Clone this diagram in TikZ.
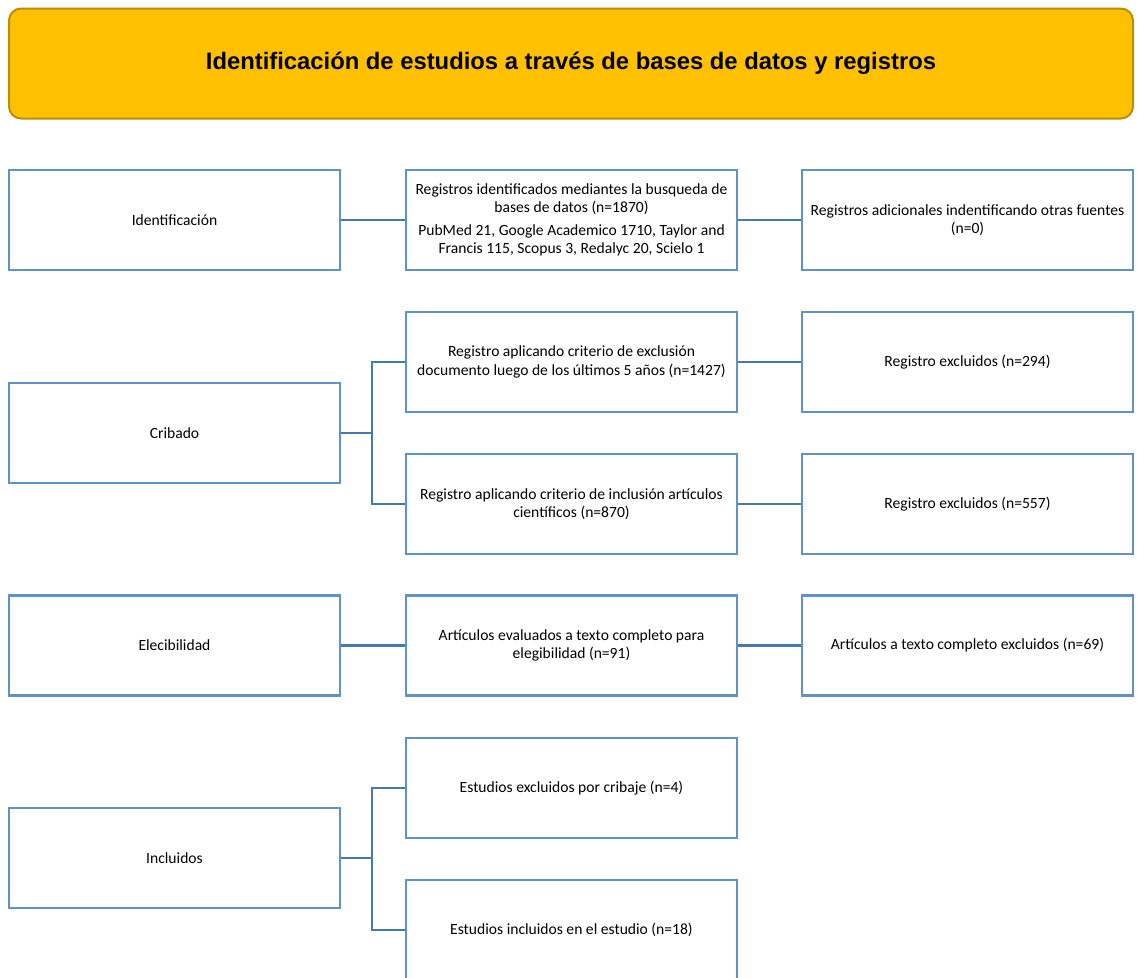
\documentclass[tikz,border=0pt]{standalone}
\usepackage{fontspec}
\setmainfont{Carlito}
\newfontfamily\titlefont{Liberation Sans}
\definecolor{boxblue}{RGB}{96,145,200}
\definecolor{linkblue}{RGB}{70,122,168}
\definecolor{titlefill}{RGB}{255,192,0}
\definecolor{titledraw}{RGB}{184,142,10}
\begin{document}
\begin{tikzpicture}[x=1pt,y=-1pt,
  stepbox/.style={draw=boxblue,line width=2.6pt,fill=white,minimum width=331pt,minimum height=100pt,inner sep=0pt,align=center,font=\fontsize{15.6}{18.5}\selectfont},
  link/.style={draw=linkblue,line width=2.8pt}]
\useasboundingbox (0,0) rectangle (1137,977);
\node[draw=titledraw,line width=2pt,fill=titlefill,rounded corners=12pt,minimum width=1124pt,minimum height=110pt,inner sep=0pt,font=\titlefont\bfseries\fontsize{23.8}{28}\selectfont] (title) at (571,63.5) {Identificación de estudios a través de bases de datos y registros};
% row 1
\node[stepbox] (id) at (174.5,220) {Identificación};
\node[stepbox,font=\fontsize{15.6}{17.5}\selectfont] (idm) at (571.5,220) {Registros identificados mediantes la busqueda de\\bases de datos (n=1870)\\[6pt]PubMed 21, Google Academico 1710, Taylor and\\Francis 115, Scopus 3, Redalyc 20, Scielo 1};
\node[stepbox] (idr) at (967.5,220) {Registros adicionales indentificando otras fuentes\\(n=0)};
% row 2
\node[stepbox] (crib) at (174.5,433) {Cribado};
\node[stepbox] (c1) at (571.5,362) {Registro aplicando criterio de exclusión\\documento luego de los últimos 5 años (n=1427)};
\node[stepbox] (c1r) at (967.5,362) {Registro excluidos (n=294)};
\node[stepbox] (c2) at (571.5,504) {Registro aplicando criterio de inclusión artículos\\científicos (n=870)};
\node[stepbox] (c2r) at (967.5,504) {Registro excluidos (n=557)};
% row 3
\node[stepbox] (ele) at (174.5,645.5) {Elecibilidad};
\node[stepbox] (elem) at (571.5,645.5) {Artículos evaluados a texto completo para\\elegibilidad (n=91)};
\node[stepbox] (eler) at (967.5,645.5) {Artículos a texto completo excluidos (n=69)};
% row 4
\node[stepbox] (inc) at (174.5,858) {Incluidos};
\node[stepbox] (i1) at (571.5,788) {Estudios excluidos por cribaje (n=4)};
\node[stepbox] (i2) at (571.5,930) {Estudios incluidos en el estudio (n=18)};
% connectors
\draw[link] (id.east) -- (idm.west);
\draw[link] (idm.east) -- (idr.west);
\coordinate (cb) at (372,433);
\draw[link] (crib.east) -- (cb);
\draw[link] (c1.west) -| (cb) |- (c2.west);
\draw[link] (c1.east) -- (c1r.west);
\draw[link] (c2.east) -- (c2r.west);
\draw[link] (ele.east) -- (elem.west);
\draw[link] (elem.east) -- (eler.west);
\coordinate (ib) at (372,858);
\draw[link] (inc.east) -- (ib);
\draw[link] (i1.west) -| (ib) |- (i2.west);
\end{tikzpicture}
\end{document}
